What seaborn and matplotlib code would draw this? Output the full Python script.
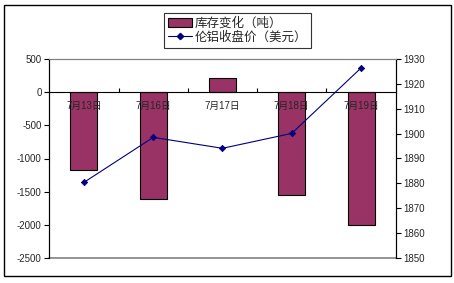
import matplotlib
matplotlib.use("Agg")
import matplotlib.pyplot as plt
from matplotlib.patches import Rectangle, Patch
from matplotlib.lines import Line2D
from matplotlib.ticker import FixedLocator
import seaborn as sns
import pandas as pd

dates = ["7月13日", "7月16日", "7月17日", "7月18日", "7月19日"]
stock_change = [-1172, -1614, 210, -1543, -1995]
close_price = [1880.4, 1898.5, 1894.1, 1900.1, 1926.4]
left_ticks = [500, 0, -500, -1000, -1500, -2000, -2500]
right_ticks = [1930, 1920, 1910, 1900, 1890, 1880, 1870, 1860, 1850]
bar_label = "库存变化（吨）"
line_label = "伦铝收盘价（美元）"

sns.set_theme(style="white")
plt.rcParams["font.family"] = ["Liberation Sans", "Noto Sans CJK SC", "DejaVu Sans"]

df = pd.DataFrame({"date": dates, "stock": stock_change, "price": close_price})

W, H = 454, 283
fig = plt.figure(figsize=(W / 100, H / 100), dpi=100)
L, R, T, B = 49.3, 395.7, 59, 258
ax = fig.add_axes([L / W, 1 - B / H, (R - L) / W, (B - T) / H])

bar_color = "#993366"
line_color = "#000080"

sns.barplot(data=df, x="date", y="stock", ax=ax, color=bar_color, saturation=1,
            width=0.39, edgecolor="black", linewidth=0.8, zorder=2)
ax.set_xlim(-0.5, 4.5)
ax.set_ylim(-2500, 500)
ax.set_yticks(left_ticks)
ax.set_yticklabels([str(v) for v in left_ticks])
ax.set_xlabel("")
ax.set_ylabel("")
ax.set_axisbelow(False)
ax.xaxis.set_zorder(5)
ax.spines["bottom"].set_zorder(5)

ax2 = ax.twinx()
sns.pointplot(data=df, x="date", y="price", ax=ax2, color=line_color,
              markers="D", linestyles="-", markersize=3.2, linewidth=0.8)
ax2.set_xlim(-0.5, 4.5)
ax2.set_ylim(1850, 1930)
ax2.set_yticks(right_ticks)
ax2.set_yticklabels([str(v) for v in right_ticks])
ax2.set_ylabel("")
ax2.set_xlabel("")

# spines
for a in (ax, ax2):
    a.spines["top"].set_color("#808080")
    a.spines["top"].set_linewidth(0.8)
    a.spines["left"].set_color("black")
    a.spines["right"].set_color("black")
    a.spines["left"].set_linewidth(0.8)
    a.spines["right"].set_linewidth(0.8)
    a.grid(False)
ax.spines["bottom"].set_position(("data", 0))
ax.spines["bottom"].set_color("black")
ax.spines["bottom"].set_linewidth(0.8)
ax2.spines["bottom"].set_visible(False)
ax.axhline(-2500, color="#808080", lw=1.2, zorder=1, clip_on=False)

ax.tick_params(axis="y", which="major", direction="out", length=3.5, width=0.8,
               color="black", labelsize=7, pad=2, left=True)
ax2.tick_params(axis="y", which="major", direction="out", length=3.5, width=0.8,
                color="black", labelsize=7, pad=2, right=True)
ax.tick_params(axis="x", which="major", length=0, labelsize=7, pad=6)
ax.xaxis.set_minor_locator(FixedLocator([0.5, 1.5, 2.5, 3.5]))
ax.tick_params(axis="x", which="minor", direction="in", length=3, width=0.8,
               color="black", bottom=True)
ax2.tick_params(axis="x", which="both", bottom=False, labelbottom=False)

ax.patch.set_visible(False)

handles = [Patch(facecolor=bar_color, edgecolor="black", linewidth=0.8),
           Line2D([0], [0], color=line_color, lw=0.8, marker="D", markersize=3.2)]
leg = fig.legend(handles, [bar_label, line_label], loc="upper left",
                 bbox_to_anchor=(164.3 / W, 1 - 13.3 / H), bbox_transform=fig.transFigure,
                 frameon=True, fancybox=False, fontsize=9, borderaxespad=0,
                 handlelength=1.9, handletextpad=0.2, borderpad=0.3, labelspacing=0.15)
leg.get_frame().set_edgecolor("black")
leg.get_frame().set_linewidth(0.8)

fig.patches.append(Rectangle((4 / W, 1 - 276 / H), (451 - 4) / W, (276 - 5) / H,
                             transform=fig.transFigure, fill=False,
                             edgecolor="black", linewidth=1))

fig.savefig("out.png", dpi=100)
